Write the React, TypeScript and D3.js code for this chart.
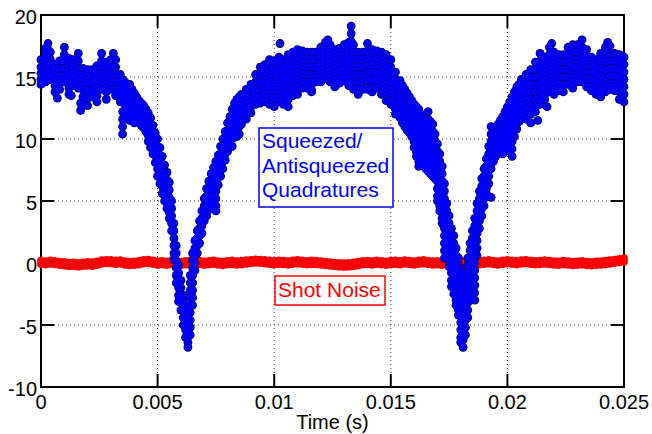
import * as d3 from "d3";

const W = 652;
const H = 434;

const xTicks = [0, 0.005, 0.01, 0.015, 0.02, 0.025];
const xTickLabels = ["0", "0.005", "0.01", "0.015", "0.02", "0.025"];
const yTicks = [-10, -5, 0, 5, 10, 15, 20];
const yTickLabels = ["-10", "-5", "0", "5", "10", "15", "20"];

// squeezed / antisqueezed quadratures: [time (ms), value, value, ...]
const quadRows = [
  [0.0, 16.4, 15.8, 15.3, 14.8, 14.4],
  [0.2, 17.3, 16.8, 16.2, 15.6, 15.1, 14.6],
  [0.3, 17.7, 17.2],
  [0.4, 17.0, 16.4, 15.9, 15.3, 14.8],
  [0.6, 16.0, 15.5, 14.9, 14.3, 13.8],
  [0.7, 13.3],
  [0.8, 16.3, 15.7, 15.1, 14.6, 14.0],
  [1.0, 17.4, 16.8, 16.3, 15.7, 15.1, 14.6],
  [1.2, 16.5, 15.9, 15.3, 14.7, 14.1, 13.6],
  [1.3, 13.5],
  [1.4, 16.4, 15.8, 15.3, 14.8, 14.3],
  [1.6, 16.9, 16.3, 15.7, 15.1, 14.6, 14.1],
  [1.7, 12.9, 12.3],
  [1.8, 15.7, 15.2, 14.6, 14.0, 13.4, 12.8],
  [2.0, 15.6, 15.1, 14.5, 13.9, 13.3, 12.7],
  [2.2, 15.6, 15.0, 14.5, 13.9, 13.4],
  [2.4, 15.9, 15.3, 14.7, 14.1, 13.5, 13.0],
  [2.6, 16.9, 16.3, 15.8, 15.2, 14.6, 14.0],
  [2.8, 16.2, 15.6, 15.0, 14.4, 13.8, 13.2],
  [3.0, 16.4, 15.8, 15.2, 14.6, 14.0],
  [3.1, 16.9],
  [3.2, 16.4, 15.8, 15.2, 14.6, 14.0, 13.5],
  [3.4, 15.2, 14.7, 14.1, 13.6, 13.0],
  [3.5, 14.8, 14.2, 13.6, 13.0, 12.2, 11.6, 11.0, 10.4],
  [3.6, 14.6, 14.0, 13.4, 12.8, 12.2],
  [3.7, 14.4, 13.8, 13.2, 12.6, 12.0],
  [3.8, 14.4, 13.8, 13.2, 12.6, 12.0, 11.5],
  [3.9, 14.0, 13.4, 12.8, 12.2, 11.6],
  [4.0, 13.7, 13.1, 12.5, 11.9, 11.3],
  [4.1, 13.4, 12.8, 12.2, 11.6],
  [4.2, 13.1, 12.6, 12.0, 11.4],
  [4.3, 12.9, 12.3, 11.7, 11.1],
  [4.4, 12.7, 12.1, 11.5, 10.9],
  [4.5, 12.4, 11.8, 11.2, 10.6],
  [4.6, 12.1, 11.5, 10.9, 10.3, 9.8],
  [4.7, 11.7, 11.1, 10.5, 9.9, 9.3],
  [4.8, 11.1, 10.5, 9.9, 9.3, 8.8],
  [4.9, 10.5, 9.9, 9.3, 8.7, 8.1],
  [5.0, 10.0, 9.4, 8.8, 8.2, 7.6, 7.0],
  [5.1, 9.3, 8.7, 8.1, 7.5, 6.9, 6.4],
  [5.2, 8.6, 8.0, 7.4, 6.8, 6.2, 5.6],
  [5.3, 7.9, 7.3, 6.7, 6.1, 5.5, 5.0],
  [5.4, 7.3, 6.7, 6.1, 5.5, 4.9, 4.4],
  [5.5, 6.5, 5.9, 5.3, 4.7, 4.1, 3.6],
  [5.6, 5.0, 4.4, 3.8, 3.2, 2.6],
  [5.7, 3.2, 2.6, 2.0, 1.4, 0.8, 0.3],
  [5.8, 1.4, 0.8, 0.2, -0.4, -1.0, -1.6],
  [5.9, -0.2, -0.8, -1.4, -2.0, -2.6, -3.1],
  [6.0, -1.4, -2.0, -2.6, -3.2, -3.8],
  [6.1, -2.6, -3.2, -3.8, -4.4, -5.0],
  [6.2, -3.6, -4.2, -4.8, -5.4, -6.0],
  [6.3, -4.6, -5.2, -5.8, -6.4, -6.8],
  [6.4, -1.0, -1.6, -2.2, -2.8, -3.4, -4.0, -4.6, -5.2, -5.8],
  [6.5, 0.8, 0.2, -0.4, -1.0, -1.6, -2.2, -2.8, -3.4],
  [6.6, 1.8, 1.2, 0.6, 0.0, -0.6],
  [6.7, 2.6, 2.0, 1.4, 0.8],
  [6.8, 3.4, 2.8, 2.2, 1.6],
  [6.9, 4.2, 3.6, 3.0, 2.4],
  [7.0, 5.2, 4.6, 4.0, 3.4],
  [7.1, 6.0, 5.4, 4.8, 4.2, 3.8],
  [7.2, 6.6, 6.0, 5.4, 4.8, 4.3],
  [7.3, 7.2, 6.6, 6.0, 5.4, 4.8],
  [7.4, 7.7, 7.1, 6.5, 5.9, 5.3, 4.7],
  [7.5, 8.2, 7.6, 7.0, 6.4, 5.8, 5.2, 4.6, 4.2],
  [7.6, 8.7, 8.1, 7.5, 6.9, 6.3],
  [7.7, 9.4, 8.8, 8.2, 7.6, 7.0],
  [7.8, 10.0, 9.4, 8.8, 8.2, 7.6],
  [7.9, 10.6, 10.0, 9.4, 8.8, 8.3],
  [8.0, 11.3, 10.7, 10.1, 9.5, 9.0],
  [8.1, 11.8, 11.2, 10.6, 10.0, 9.5],
  [8.2, 12.4, 11.8, 11.2, 10.6, 10.0, 9.4],
  [8.3, 12.9, 12.3, 11.7, 11.1, 10.5],
  [8.4, 13.2, 12.6, 12.0, 11.4, 10.8, 10.2],
  [8.5, 13.4, 12.8, 12.2, 11.6, 11.0, 10.4],
  [8.6, 13.6, 13.0, 12.4, 11.8, 11.2],
  [8.8, 14.0, 13.4, 12.8, 12.2, 11.6],
  [9.0, 14.4, 13.8, 13.2, 12.6, 12.1],
  [9.2, 15.2, 14.6, 14.0, 13.4, 12.8],
  [9.4, 15.8, 15.2, 14.6, 14.0, 13.4, 12.9],
  [9.6, 16.0, 15.4, 14.8, 14.2, 13.6, 13.0],
  [9.8, 16.4, 15.8, 15.2, 14.6, 14.0, 13.4, 12.8],
  [10.0, 16.3, 15.7, 15.1, 14.5, 13.9, 13.3, 12.6],
  [10.2, 16.6, 16.0, 15.4, 14.8, 14.2, 13.6, 13.0],
  [10.25, 17.7],
  [10.4, 16.4, 15.8, 15.2, 14.6, 14.0, 13.4, 12.8],
  [10.6, 16.8, 16.2, 15.6, 15.0, 14.4, 13.8, 13.2, 12.6],
  [10.8, 17.0, 16.4, 15.8, 15.2, 14.6, 14.0, 13.5],
  [11.0, 17.2, 16.6, 16.0, 15.4, 14.8, 14.2, 13.6],
  [11.2, 17.1, 16.5, 15.9, 15.3, 14.7, 14.1],
  [11.4, 17.0, 16.4, 15.8, 15.2, 14.6, 14.1],
  [11.6, 17.0, 16.4, 15.8, 15.2, 14.6, 14.0, 13.8],
  [11.8, 17.0, 16.4, 15.8, 15.2, 14.6],
  [12.0, 17.4, 16.8, 16.2, 15.6, 15.0, 14.6],
  [12.2, 17.8, 17.2, 16.6, 16.0, 15.4, 14.9],
  [12.3, 18.0],
  [12.4, 17.6, 17.0, 16.4, 15.8, 15.2, 14.6],
  [12.6, 17.2, 16.6, 16.0, 15.4, 14.8, 14.2],
  [12.8, 17.3, 16.7, 16.1, 15.5, 14.9, 14.5],
  [13.0, 17.6, 17.0, 16.4, 15.8, 15.2, 14.7],
  [13.2, 17.8, 17.2, 16.6, 16.0, 15.4, 14.8, 14.3],
  [13.3, 19.1, 18.5, 17.9],
  [13.4, 17.6, 17.0, 16.4, 15.8, 15.2, 14.6, 14.0],
  [13.6, 17.0, 16.4, 15.8, 15.2, 14.6, 14.0, 13.6],
  [13.8, 17.0, 16.4, 15.8, 15.2, 14.6, 14.0],
  [14.0, 17.7, 17.1, 16.5, 15.9, 15.3, 14.7, 14.0],
  [14.2, 17.2, 16.6, 16.0, 15.4, 14.8, 14.2, 13.8],
  [14.4, 17.1, 16.5, 15.9, 15.3, 14.7, 14.1],
  [14.6, 17.0, 16.4, 15.8, 15.2, 14.6, 14.0, 13.6],
  [14.8, 16.8, 16.2, 15.6, 15.0, 14.4, 13.8, 13.1],
  [15.0, 16.4, 15.8, 15.2, 14.6, 14.0, 13.4, 12.8],
  [15.2, 15.4, 14.8, 14.2, 13.6, 13.0, 12.4, 12.0],
  [15.4, 14.7, 14.1, 13.5, 12.9, 12.3, 11.7],
  [15.5, 14.3, 13.7, 13.1, 12.5, 11.9, 11.3],
  [15.6, 14.0, 13.4, 12.8, 12.2, 11.6, 11.0],
  [15.7, 13.7, 13.1, 12.5, 11.9, 11.3, 10.7],
  [15.8, 13.4, 12.8, 12.2, 11.6, 11.0, 10.5],
  [15.9, 13.1, 12.5, 11.9, 11.3, 10.7, 10.2],
  [16.0, 12.8, 12.2, 11.6, 11.0, 10.4, 9.8, 9.3],
  [16.1, 12.6, 12.0, 11.4, 10.8, 10.2, 9.6, 9.0, 8.6],
  [16.2, 12.4, 11.8, 11.2, 10.6, 10.0, 9.4, 8.8, 8.2, 7.8],
  [16.3, 12.0, 11.4, 10.8, 10.2, 9.6, 9.0, 8.4, 8.0],
  [16.4, 11.6, 11.0, 10.4, 9.8, 9.2, 8.6, 8.0],
  [16.5, 11.2, 10.6, 10.0, 9.4, 8.8, 8.2, 7.6],
  [16.6, 12.2, 11.6, 11.0, 10.4, 9.8, 9.2, 8.6, 8.0, 7.4],
  [16.7, 11.4, 10.8, 10.2, 9.6, 9.0, 8.4, 7.8, 7.2],
  [16.8, 11.2, 10.6, 10.0, 9.4, 8.8, 8.2, 7.6, 7.0],
  [16.9, 10.4, 9.8, 9.2, 8.6, 8.0, 7.4, 6.8],
  [17.0, 9.6, 9.0, 8.4, 7.8, 7.2, 6.6, 6.0, 5.4, 5.0],
  [17.1, 8.8, 8.2, 7.6, 7.0, 6.4, 5.8, 5.2, 4.6, 4.2],
  [17.2, 7.8, 7.2, 6.6, 6.0, 5.4, 4.8, 4.2, 3.6, 3.2],
  [17.3, 6.4, 5.8, 5.2, 4.6, 4.0, 3.4, 2.8, 2.2, 1.6, 1.0, 0.4],
  [17.4, 4.8, 4.2, 3.6, 3.0, 2.4, 1.8, 1.2, 0.6],
  [17.5, 3.8, 3.2, 2.6, 2.0, 1.4, 0.8, 0.2, -0.3],
  [17.6, 2.8, 2.2, 1.6, 1.0, 0.4, -0.2, -0.8, -1.4, -1.9],
  [17.7, 2.2, 1.6, 1.0, 0.4, -0.2, -0.8, -1.4, -2.0, -2.5],
  [17.8, 1.2, 0.6, 0.0, -0.6, -1.2, -1.8, -2.4, -3.0, -3.4],
  [17.9, 0.4, -0.2, -0.8, -1.4, -2.0, -2.6, -3.2, -3.8, -4.2],
  [18.0, -0.6, -1.2, -1.8, -2.4, -3.0, -3.6, -4.2, -4.8, -5.4, -6.0, -6.4],
  [18.1, -1.4, -2.0, -2.6, -3.2, -3.8, -4.4, -5.0, -5.6, -6.2, -6.8],
  [18.2, -1.0, -1.6, -2.2, -2.8, -3.4, -4.0, -4.6, -5.2, -5.8],
  [18.3, 0.4, -0.2, -0.8, -1.4, -2.0, -2.6, -3.2, -3.8, -4.4],
  [18.4, 1.6, 1.0, 0.4, -0.2, -0.8, -1.4, -2.0, -2.6, -3.0],
  [18.5, 2.6, 2.0, 1.4, 0.8, 0.2, -0.4, -1.0, -1.6, -2.4],
  [18.6, 3.6, 3.0, 2.4, 1.8, 1.2, 0.6, 0.0, -0.6, -1.2, -1.8, -2.4, -3.0],
  [18.7, 4.8, 4.2, 3.6, 3.0, 2.4, 1.8, 1.2, 0.6],
  [18.8, 5.8, 5.2, 4.6, 4.0, 3.4, 2.8],
  [18.9, 6.8, 6.2, 5.6, 5.0, 4.4, 3.8],
  [19.0, 7.6, 7.0, 6.4, 5.8, 5.2, 4.6],
  [19.1, 8.4, 7.8, 7.2, 6.6, 6.0, 5.6],
  [19.2, 9.4, 8.8, 8.2, 7.6, 7.0, 6.4],
  [19.3, 11.0, 10.4, 9.8, 9.2, 8.6, 8.0, 7.6, 5.3],
  [19.4, 10.4, 9.8, 9.2, 8.6, 8.2],
  [19.5, 10.8, 10.2, 9.6, 9.0, 8.6],
  [19.6, 11.2, 10.6, 10.0, 9.4, 9.0],
  [19.7, 11.5, 10.9, 10.3, 9.7, 9.2],
  [19.8, 11.8, 11.2, 10.6, 10.0, 9.4, 8.8],
  [19.9, 12.2, 11.6, 11.0, 10.4, 9.8, 9.2],
  [20.0, 12.6, 12.0, 11.4, 10.8, 10.2, 9.6, 9.2],
  [20.1, 13.0, 12.4, 11.8, 11.2, 10.6, 10.0, 9.4, 9.0],
  [20.2, 13.4, 12.8, 12.2, 11.6, 11.0, 10.4, 9.8, 9.2, 8.6],
  [20.3, 13.8, 13.2, 12.6, 12.0, 11.4, 10.8, 10.2],
  [20.4, 14.2, 13.6, 13.0, 12.4, 11.8, 11.2, 10.8],
  [20.5, 14.4, 13.8, 13.2, 12.6, 12.0, 11.4],
  [20.6, 14.8, 14.2, 13.6, 13.0, 12.4, 11.8],
  [20.8, 15.2, 14.6, 14.0, 13.4, 12.8, 12.2, 11.6],
  [21.0, 15.6, 15.0, 14.4, 13.8, 13.2, 12.6, 12.0, 11.3],
  [21.2, 16.2, 15.6, 15.0, 14.4, 13.8, 13.2, 12.6, 12.2],
  [21.3, 11.5],
  [21.4, 16.9, 16.3, 15.7, 15.1, 14.5, 13.9, 13.3, 12.8],
  [21.6, 16.6, 16.0, 15.4, 14.8, 14.2, 13.6, 13.2],
  [21.7, 12.6],
  [21.8, 17.4, 16.8, 16.2, 15.6, 15.0, 14.4, 13.8],
  [21.9, 17.7],
  [22.0, 17.0, 16.4, 15.8, 15.2, 14.6, 14.0, 13.6],
  [22.2, 16.8, 16.2, 15.6, 15.0, 14.4, 13.9],
  [22.4, 16.8, 16.2, 15.6, 15.0, 14.4, 13.8],
  [22.6, 17.4, 16.8, 16.2, 15.6, 15.0, 14.4],
  [22.8, 17.6, 17.0, 16.4, 15.8, 15.2, 14.6, 14.1],
  [23.0, 17.6, 17.0, 16.4, 15.8, 15.2, 14.6],
  [23.2, 18.0, 17.4, 16.8, 16.2, 15.6, 15.0, 14.6],
  [23.4, 17.2, 16.6, 16.0, 15.4, 14.8, 14.2],
  [23.6, 16.6, 16.0, 15.4, 14.8, 14.2, 13.9],
  [23.8, 16.4, 15.8, 15.2, 14.6, 14.0, 13.6],
  [24.0, 16.9, 16.3, 15.7, 15.1, 14.5, 13.9, 13.4],
  [24.2, 17.4, 16.8, 16.2, 15.6, 15.0, 14.4, 13.8],
  [24.3, 17.8],
  [24.4, 17.5, 16.9, 16.3, 15.7, 15.1, 14.5, 14.0],
  [24.6, 16.9, 16.3, 15.7, 15.1, 14.5, 13.9],
  [24.8, 16.8, 16.2, 15.6, 15.0, 14.4, 13.8, 13.2],
  [25.0, 16.6, 16.0, 15.4, 14.8, 14.2, 13.6, 13.0],
];

// shot noise: [time (ms), upper, lower]
const shotRows = [
  [0.0, 0.18, -0.08], [0.2, 0.14, -0.12], [0.4, 0.2, -0.06], [0.6, 0.16, -0.1], [0.8, 0.1, -0.16],
  [1.0, 0.08, -0.2], [1.2, 0.02, -0.26], [1.4, 0.04, -0.24], [1.6, 0.0, -0.3], [1.8, 0.05, -0.25],
  [2.0, 0.08, -0.22], [2.2, 0.06, -0.24], [2.4, 0.12, -0.16], [2.6, 0.22, -0.06], [2.8, 0.26, -0.02],
  [3.0, 0.24, -0.04], [3.2, 0.2, -0.08], [3.4, 0.22, -0.06], [3.6, 0.14, -0.14], [3.8, 0.1, -0.18],
  [4.0, 0.12, -0.16], [4.2, 0.16, -0.12], [4.4, 0.24, -0.04], [4.6, 0.28, 0.0], [4.8, 0.2, -0.08],
  [5.0, 0.14, -0.14], [5.2, 0.16, -0.12], [5.4, 0.12, -0.16], [5.6, 0.18, -0.1], [5.8, 0.14, -0.14],
  [6.0, 0.1, -0.18], [6.2, 0.16, -0.12], [6.4, 0.2, -0.08], [6.6, 0.14, -0.14], [6.8, 0.18, -0.1],
  [7.0, 0.12, -0.16], [7.2, 0.16, -0.12], [7.4, 0.2, -0.08], [7.6, 0.14, -0.14], [7.8, 0.1, -0.18],
  [8.0, 0.16, -0.12], [8.2, 0.2, -0.1], [8.4, 0.14, -0.14], [8.6, 0.18, -0.12], [8.8, 0.22, -0.06],
  [9.0, 0.26, -0.02], [9.2, 0.3, 0.02], [9.4, 0.28, 0.0], [9.6, 0.24, -0.04], [9.8, 0.2, -0.08],
  [10.0, 0.16, -0.12], [10.2, 0.2, -0.08], [10.4, 0.18, -0.1], [10.6, 0.14, -0.14], [10.8, 0.2, -0.08],
  [11.0, 0.24, -0.04], [11.2, 0.2, -0.08], [11.4, 0.16, -0.12], [11.6, 0.2, -0.1], [11.8, 0.18, -0.1],
  [12.0, 0.14, -0.14], [12.2, 0.1, -0.18], [12.4, 0.06, -0.22], [12.6, 0.02, -0.26], [12.8, 0.0, -0.3],
  [13.0, -0.02, -0.32], [13.2, 0.0, -0.3], [13.4, 0.04, -0.26], [13.6, 0.1, -0.2], [13.8, 0.16, -0.12],
  [14.0, 0.18, -0.1], [14.2, 0.14, -0.14], [14.4, 0.2, -0.08], [14.6, 0.16, -0.12], [14.8, 0.12, -0.16],
  [15.0, 0.18, -0.1], [15.2, 0.2, -0.08], [15.4, 0.16, -0.12], [15.6, 0.22, -0.06], [15.8, 0.18, -0.1],
  [16.0, 0.14, -0.14], [16.2, 0.2, -0.08], [16.4, 0.24, -0.04], [16.6, 0.18, -0.1], [16.8, 0.14, -0.14],
  [17.0, 0.16, -0.12], [17.2, 0.12, -0.16], [17.4, 0.18, -0.1], [17.6, 0.14, -0.14], [17.8, 0.1, -0.18],
  [18.0, 0.16, -0.12], [18.2, 0.12, -0.16], [18.4, 0.18, -0.1], [18.6, 0.22, -0.06], [18.8, 0.16, -0.12],
  [19.0, 0.2, -0.08], [19.2, 0.24, -0.04], [19.4, 0.18, -0.1], [19.6, 0.14, -0.14], [19.8, 0.2, -0.08],
  [20.0, 0.24, -0.04], [20.2, 0.2, -0.08], [20.4, 0.16, -0.12], [20.6, 0.22, -0.06], [20.8, 0.26, -0.02],
  [21.0, 0.2, -0.08], [21.2, 0.16, -0.12], [21.4, 0.18, -0.1], [21.6, 0.22, -0.06], [21.8, 0.18, -0.1],
  [22.0, 0.14, -0.14], [22.2, 0.12, -0.16], [22.4, 0.18, -0.1], [22.6, 0.14, -0.14], [22.8, 0.1, -0.18],
  [23.0, 0.12, -0.16], [23.2, 0.16, -0.12], [23.4, 0.1, -0.18], [23.6, 0.08, -0.2], [23.8, 0.12, -0.16],
  [24.0, 0.14, -0.14], [24.2, 0.18, -0.1], [24.4, 0.22, -0.06], [24.6, 0.28, 0.0], [24.8, 0.34, 0.06],
  [25.0, 0.4, 0.12],
];

const quadLabel = ["Squeezed/", "Antisqueezed", "Quadratures"];
const shotLabel = "Shot Noise";

const FONT = "'Liberation Sans', Arial, Helvetica, sans-serif";

const toPoints = (rows: number[][]) =>
  rows.flatMap(([t, ...vs]) => vs.map((v) => ({ t: t / 1000, v })));

export default function App() {
  const left = 41, right = 624, top = 15, bottom = 387;
  const tick = 13;

  const x = d3.scaleLinear().domain([0, 0.025]).range([left, right]);
  const y = d3.scaleLinear().domain([-10, 20]).range([bottom, top]);

  const quad = toPoints(quadRows);
  const shot = toPoints(shotRows);

  return (
    <svg
      width={W}
      height={H}
      style={{ position: "absolute", left: 0, top: 0, background: "#fff" }}
      fontFamily={FONT}
    >
      {/* grid */}
      <g stroke="#333" strokeWidth={1} strokeDasharray="1,3">
        {xTicks.slice(1, -1).map((t) => (
          <line key={"gx" + t} x1={x(t)} x2={x(t)} y1={top + tick} y2={bottom - tick} />
        ))}
        {yTicks.slice(1, -1).map((t) => (
          <line key={"gy" + t} x1={left + tick} x2={right - tick} y1={y(t)} y2={y(t)} />
        ))}
      </g>

      {/* box + ticks */}
      <g stroke="#000" strokeWidth={2} fill="none">
        <rect x={left} y={top} width={right - left} height={bottom - top} />
        {xTicks.map((t) => (
          <g key={"tx" + t}>
            <line x1={x(t)} x2={x(t)} y1={bottom} y2={bottom - tick} />
            <line x1={x(t)} x2={x(t)} y1={top} y2={top + tick} />
          </g>
        ))}
        {yTicks.map((t) => (
          <g key={"ty" + t}>
            <line x1={left} x2={left + tick} y1={y(t)} y2={y(t)} />
            <line x1={right} x2={right - tick} y1={y(t)} y2={y(t)} />
          </g>
        ))}
      </g>

      {/* shot noise */}
      <g fill="#ff0000">
        {shot.map((d, i) => (
          <circle key={i} cx={x(d.t)} cy={y(d.v)} r={3.9} />
        ))}
      </g>

      {/* quadratures: dark rim first, then blue faces with dark centres */}
      <g fill="#000046">
        {quad.map((d, i) => (
          <circle key={i} cx={x(d.t)} cy={y(d.v)} r={4.4} />
        ))}
      </g>
      <g>
        {quad.map((d, i) => (
          <g key={i}>
            <circle cx={x(d.t)} cy={y(d.v)} r={3.6} fill="#0000ff" />
            <circle cx={x(d.t)} cy={y(d.v)} r={0.8} fill="#000" fillOpacity={0.5} />
          </g>
        ))}
      </g>

      {/* tick labels */}
      <g fontSize={20} fill="#000">
        {xTicks.map((t, i) => (
          <text key={"lx" + t} x={x(t)} y={409} textAnchor="middle">
            {xTickLabels[i]}
          </text>
        ))}
        {yTicks.map((t, i) => (
          <text key={"ly" + t} x={37} y={y(t) + 8.5} textAnchor="end">
            {yTickLabels[i]}
          </text>
        ))}
        <text x={(left + right) / 2} y={429} textAnchor="middle">
          Time (s)
        </text>
      </g>

      {/* annotations */}
      <rect x={259} y={128} width={134} height={79} fill="#fff" stroke="#0000ff" strokeWidth={1.5} />
      <g fontSize={21} fill="#0000ff">
        {quadLabel.map((s, i) => (
          <text key={s} x={262} y={148 + i * 24.5}>
            {s}
          </text>
        ))}
      </g>
      <rect x={275} y={276} width={110} height={29} fill="#fff" stroke="#ff0000" strokeWidth={1.5} />
      <text x={278} y={297} fontSize={21} fill="#ff0000">
        {shotLabel}
      </text>
    </svg>
  );
}
